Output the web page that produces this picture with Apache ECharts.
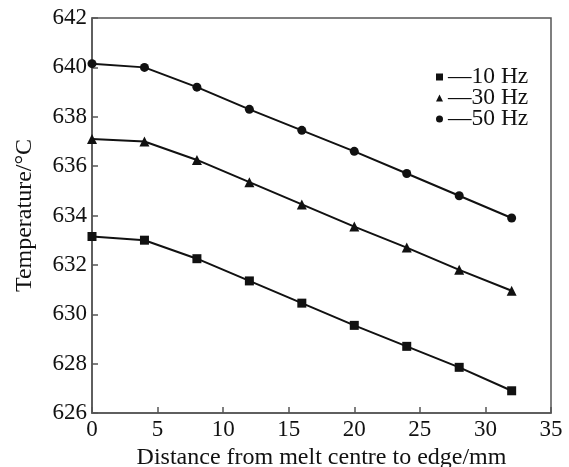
<!DOCTYPE html>
<html>
<head>
<meta charset="utf-8">
<script src="https://cdn.jsdelivr.net/npm/echarts@6/dist/echarts.min.js"></script>
<style>
  html, body { margin: 0; padding: 0; background: #fff; }
  #chart { width: 569px; height: 467px; }
</style>
</head>
<body>
<div id="chart"></div>
<script>
// Distance from the melt centre (mm)
const distance = [0, 4, 8, 12, 16, 20, 24, 28, 32];
// Temperature (°C) for each stirring frequency
const temp10Hz = [633.15, 633.0, 632.25, 631.35, 630.45, 629.55, 628.7, 627.85, 626.9];
const temp30Hz = [637.1, 637.0, 636.25, 635.35, 634.45, 633.55, 632.7, 631.8, 630.95];
const temp50Hz = [640.15, 640.0, 639.2, 638.3, 637.45, 636.6, 635.7, 634.8, 633.9];
const seriesNames = ['10 Hz', '30 Hz', '50 Hz'];

const FONT = 'Liberation Serif';
const INK = '#111';
const AXIS = '#555';

function pairs(ys) { return distance.map((x, i) => [x, ys[i]]); }

const symbols = ['rect', 'triangle', 'circle'];
const sizes = [9, 10, 9];
const values = [temp10Hz, temp30Hz, temp50Hz];

const chart = echarts.init(document.getElementById('chart'));
chart.setOption({
  animation: false,
  backgroundColor: '#fff',
  grid: {
    left: 92, top: 18, right: 18, bottom: 54,
    containLabel: false, outerBoundsMode: 'none',
    show: true, borderColor: AXIS, borderWidth: 1.5, backgroundColor: 'transparent'
  },
  legend: {
    orient: 'vertical',
    left: 436, top: 65,
    padding: 0,
    itemWidth: 7, itemHeight: 7, itemGap: -3,
    data: seriesNames.map((n, i) => ({ name: n, icon: symbols[i] })),
    formatter: n => '\u2014' + n,
    textStyle: { fontFamily: FONT, fontSize: 23.5, color: INK }
  },
  xAxis: {
    type: 'value', min: 0, max: 35, interval: 5,
    name: 'Distance from melt centre to edge/mm',
    nameLocation: 'middle', nameGap: 32,
    nameTextStyle: { fontFamily: FONT, fontSize: 24, color: INK },
    axisLine: { lineStyle: { color: AXIS, width: 1.5 } },
    axisTick: { inside: true, length: 6, lineStyle: { color: AXIS, width: 1.5 } },
    axisLabel: { fontFamily: FONT, fontSize: 23, color: INK, margin: 5 },
    splitLine: { show: false }
  },
  yAxis: {
    type: 'value', min: 626, max: 642, interval: 2,
    name: 'Temperature/\u00B0C',
    nameLocation: 'middle', nameGap: 55,
    nameTextStyle: { fontFamily: FONT, fontSize: 24, color: INK },
    axisLine: { lineStyle: { color: AXIS, width: 1.5 } },
    axisTick: { inside: true, length: 6, lineStyle: { color: AXIS, width: 1.5 } },
    axisLabel: { fontFamily: FONT, fontSize: 23, color: INK, margin: 5 },
    splitLine: { show: false }
  },
  series: seriesNames.map((name, i) => ({
    name,
    type: 'line',
    data: pairs(values[i]),
    symbol: symbols[i],
    symbolSize: sizes[i],
    showAllSymbol: true,
    lineStyle: { color: INK, width: 2 },
    itemStyle: { color: INK },
    emphasis: { disabled: true }
  }))
});
</script>
</body>
</html>
